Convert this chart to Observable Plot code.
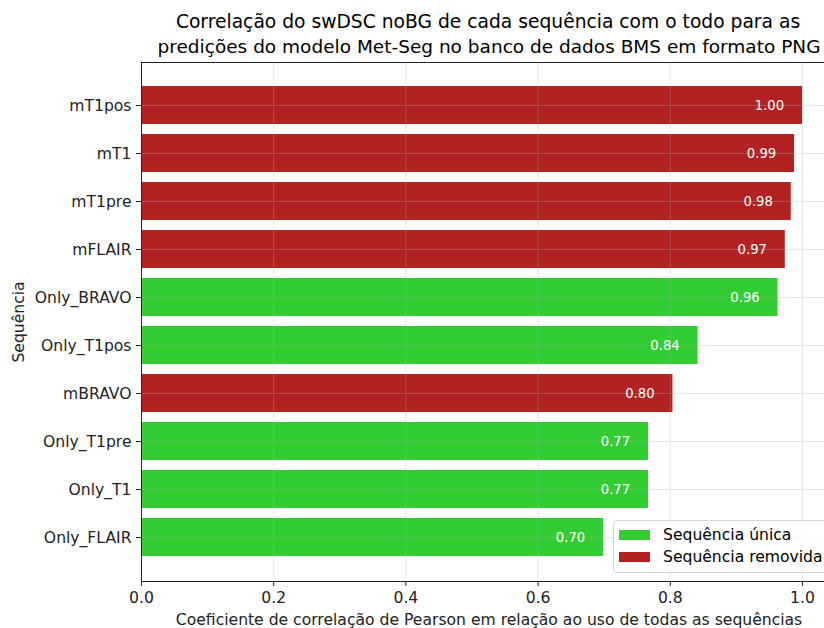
<!DOCTYPE html>
<html>
<head>
<meta charset="utf-8">
<script src="https://cdn.jsdelivr.net/npm/d3@7"></script>
<script src="https://cdn.jsdelivr.net/npm/@observablehq/plot@0.6"></script>
<style>
  body { margin: 0; background: #fff; }
  #wrap { position: relative; width: 824px; height: 628px; overflow: hidden; font-family: "DejaVu Sans", sans-serif; }
  #legend { position: absolute; left: 613px; top: 520px; width: 240px; height: 53px; border: 1px solid #d6d6d6; border-radius: 4px; background: rgba(255,255,255,0.8); box-sizing: border-box; font-size: 15.6px; color: #000; }
  .item { position: absolute; left: 5px; display: flex; align-items: center; line-height: 18px; }
  .sw { width: 31px; height: 10px; margin-right: 13px; }
</style>
</head>
<body>
<div id="wrap"></div>
<script>
const categories = ["mT1pos","mT1","mT1pre","mFLAIR","Only_BRAVO","Only_T1pos","mBRAVO","Only_T1pre","Only_T1","Only_FLAIR"];
const values = [1.000, 0.988, 0.983, 0.974, 0.963, 0.842, 0.804, 0.767, 0.767, 0.699];
const groups = ["Sequência removida","Sequência removida","Sequência removida","Sequência removida","Sequência única","Sequência única","Sequência removida","Sequência única","Sequência única","Sequência única"];
const legendLabels = ["Sequência única","Sequência removida"];
const legendColors = ["#32cd32","#b22222"];
const xTicks = [0, 0.2, 0.4, 0.6, 0.8, 1.0];
const titleLines = ["Correlação do swDSC noBG de cada sequência com o todo para as", "predições do modelo Met-Seg no banco de dados BMS em formato PNG"];
const xLabel = "Coeficiente de correlação de Pearson em relação ao uso de todas as sequências";
const yLabel = "Sequência";

const data = categories.map((c, i) => ({cat: c, value: values[i], group: groups[i]}));

const chart = Plot.plot({
  width: 824,
  height: 628,
  marginLeft: 141,
  marginRight: 0,
  marginTop: 62,
  marginBottom: 47,
  style: {fontFamily: "DejaVu Sans", fontSize: "15.6px", color: "#000", background: "#fff", overflow: "visible"},
  x: {domain: [0, 1.0333]},
  y: {domain: categories, paddingInner: 0.2, paddingOuter: 0.5},
  color: {domain: legendLabels, range: legendColors},
  marks: [
    Plot.barX(data, {x: "value", y: "cat", fill: "group"}),
    Plot.gridX({ticks: xTicks, stroke: "#b0b0b0", strokeOpacity: 0.3, strokeWidth: 1}),
    Plot.gridY({stroke: "#b0b0b0", strokeOpacity: 0.3, strokeWidth: 1}),
    Plot.text(data, {x: d => d.value - 0.05, y: "cat", text: d => d.value.toFixed(2), fill: "white", fontSize: 13.2, textAnchor: "middle"}),
    Plot.frame({stroke: "#222", strokeWidth: 1}),
    Plot.axisX({ticks: xTicks, tickFormat: d3.format(".1f"), tickSize: 5, tickPadding: 5, fontSize: 15.6, label: null, stroke: "#222", fill: "#222"}),
    Plot.axisY({tickSize: 5, tickPadding: 5, fontSize: 15.6, label: null, stroke: "#222", fill: "#222"}),
    Plot.text([titleLines[0]], {frameAnchor: "top", dx: 5, dy: -40, text: d => d, fontSize: 18.7, lineAnchor: "middle", fill: "#000"}),
    Plot.text([titleLines[1]], {frameAnchor: "top", dx: 6, dy: -15, text: d => d, fontSize: 18.5, lineAnchor: "middle", fill: "#000"}),
    Plot.text([xLabel], {frameAnchor: "bottom", dx: 6, dy: 38, text: d => d, fontSize: 15.6, lineAnchor: "middle", fill: "#222"}),
    Plot.text([yLabel], {frameAnchor: "left", dx: -123, text: d => d, fontSize: 15.6, rotate: -90, textAnchor: "middle", lineAnchor: "middle", fill: "#222"})
  ]
});

const wrap = document.getElementById("wrap");
wrap.appendChild(chart);

const legend = document.createElement("div");
legend.id = "legend";
legendLabels.forEach((lab, i) => {
  const it = document.createElement("div");
  it.className = "item";
  it.style.top = (i === 0 ? 5 : 27) + "px";
  const sw = document.createElement("div");
  sw.className = "sw";
  sw.style.background = legendColors[i];
  const tx = document.createElement("span");
  tx.textContent = lab;
  it.appendChild(sw);
  it.appendChild(tx);
  legend.appendChild(it);
});
wrap.appendChild(legend);
</script>
</body>
</html>
